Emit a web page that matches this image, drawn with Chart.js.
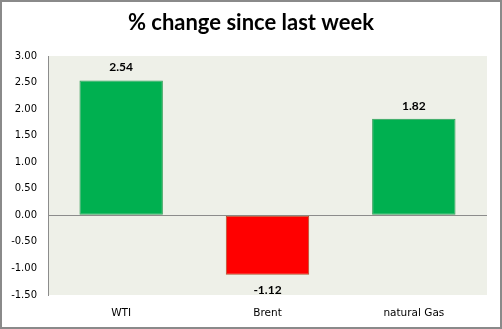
<!DOCTYPE html>
<html>
<head>
<meta charset="utf-8">
<script src="https://cdn.jsdelivr.net/npm/chart.js@4"></script>
<style>
  html, body { margin: 0; padding: 0; background: #fff; }
  #wrap { width: 502px; height: 329px; }
</style>
</head>
<body>
<div id="wrap"><canvas id="myChart" width="502" height="329"></canvas></div>
<script>
const categories = ["WTI", "Brent", "natural Gas"]
const changes = [2.54, -1.12, 1.82]
const yTicks = [-1.5, -1.0, -0.5, 0, 0.5, 1.0, 1.5, 2.0, 2.5, 3.0]
const titleText = "% change since last week"

const colors = {
  green: "#00B050",
  greenEdge: "#2E9C55",
  red: "#FF0000",
  redEdge: "#B0502A",
  plotBg: "#EEF0E8",
  axis: "#8C8C8C",
  frame: "#8A8A8A"
}

// plot background, outer frame and title
const decorations = {
  id: "decorations",
  beforeDraw(chart) {
    const { ctx, chartArea: a } = chart
    ctx.save()
    ctx.fillStyle = "#fff"
    ctx.fillRect(0, 0, chart.width, chart.height)
    ctx.fillStyle = colors.plotBg
    ctx.fillRect(a.left, a.top, a.right - a.left, a.bottom - a.top)
    ctx.restore()
  },
  afterDraw(chart) {
    const { ctx } = chart
    ctx.save()
    ctx.strokeStyle = colors.frame
    ctx.lineWidth = 2
    ctx.strokeRect(1, 1, chart.width - 2, chart.height - 2)
    ctx.fillStyle = "#000"
    ctx.font = "bold 22px Lato"
    ctx.textAlign = "center"
    ctx.textBaseline = "middle"
    ctx.fillText(titleText, chart.width / 2, 23)
    ctx.restore()
  }
}

// value labels above / below each bar
const valueLabels = {
  id: "valueLabels",
  afterDatasetsDraw(chart) {
    const { ctx } = chart
    const meta = chart.getDatasetMeta(0)
    ctx.save()
    ctx.fillStyle = "#000"
    ctx.font = "bold 12px Lato"
    ctx.textAlign = "center"
    ctx.textBaseline = "middle"
    meta.data.forEach((bar, i) => {
      const v = changes[i]
      const y = v >= 0 ? bar.y - 13 : bar.y + 15
      ctx.fillText(v.toFixed(2), bar.x, y)
    })
    ctx.restore()
  }
}

const ctx = document.getElementById("myChart").getContext("2d")

const data = {
  labels: categories,
  datasets: [
    {
      label: "",
      data: changes,
      backgroundColor: changes.map(v => v >= 0 ? colors.green : colors.red),
      borderColor: changes.map(v => v >= 0 ? colors.greenEdge : colors.redEdge),
      borderWidth: 1,
      borderSkipped: false,
      barPercentage: 0.57,
      categoryPercentage: 1
    }
  ]
}

const config = {
  type: "bar",
  data: data,
  options: {
    responsive: false,
    animation: false,
    layout: { padding: { top: 56, right: 15, left: 0, bottom: 0 } },
    plugins: {
      legend: { display: false },
      title: { display: false },
      tooltip: { enabled: false }
    },
    scales: {
      x: {
        grid: { display: false, drawTicks: false },
        border: { display: false },
        ticks: {
          padding: 12,
          color: "#000",
          font: { family: "DejaVu Sans", size: 10.5 }
        },
        afterFit(scale) { scale.height = 34 }
      },
      y: {
        min: -1.5,
        max: 3,
        afterBuildTicks(scale) { scale.ticks = yTicks.map(v => ({ value: v })) },
        grid: {
          drawTicks: false,
          color: c => c.tick && c.tick.value === 0 ? colors.axis : "rgba(0,0,0,0)",
          lineWidth: 1
        },
        border: { display: true, color: colors.axis, width: 1 },
        ticks: {
          padding: 11,
          color: "#000",
          font: { family: "DejaVu Sans", size: 10 },
          callback: v => Number(v).toFixed(2)
        },
        afterFit(scale) { scale.width = 48 }
      }
    }
  },
  plugins: [decorations, valueLabels]
}

const myBarChart = new Chart(ctx, config)
</script>
</body>
</html>
